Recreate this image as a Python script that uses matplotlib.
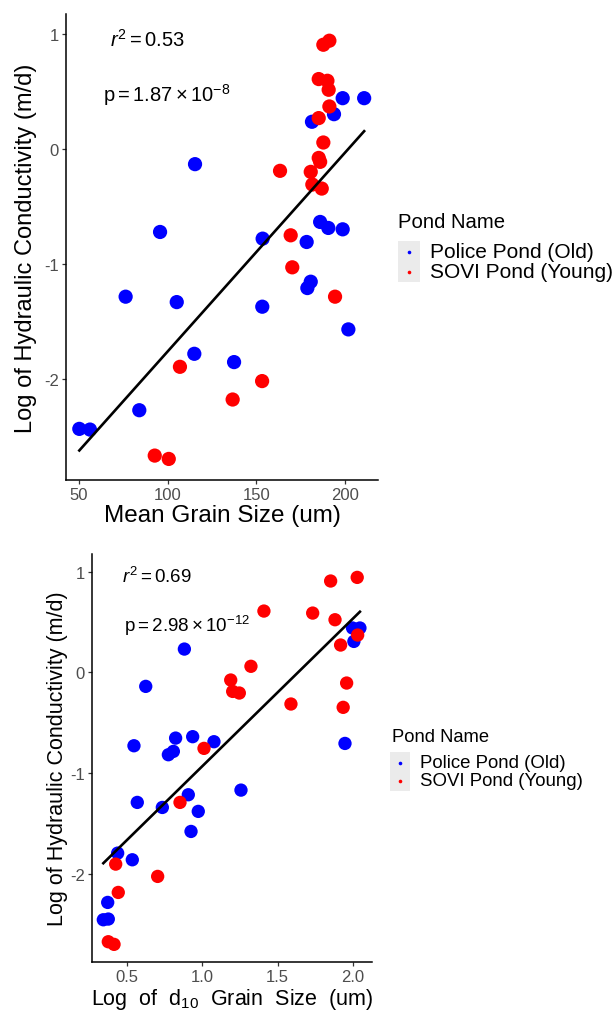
import numpy as np
import matplotlib
matplotlib.use("Agg")
import matplotlib.pyplot as plt
from matplotlib.lines import Line2D
from matplotlib.patches import Rectangle

plt.rcParams['font.family'] = ['Liberation Sans', 'DejaVu Sans']
plt.rcParams['mathtext.fontset'] = 'custom'
plt.rcParams['mathtext.rm'] = 'Liberation Sans'
plt.rcParams['mathtext.it'] = 'Liberation Sans:italic'
plt.rcParams['mathtext.default'] = 'regular'

# ---------------- data ----------------
pond_names = ["Police Pond (Old)", "SOVI Pond (Young)"]
pond_colors = ["#0000FF", "#FF0000"]

# Panel 1: mean grain size vs log K
mean_police_x = [198.6, 210.7, 193.7, 181.3, 115.4, 95.7, 153.5, 178.3, 185.9, 190.5, 198.6,
                 180.6, 178.7, 76.3, 105.1, 153.3, 201.8, 115.0, 137.4, 84.0, 50.2, 56.2]
mean_police_y = [0.443, 0.443, 0.304, 0.238, -0.130, -0.719, -0.777, -0.806, -0.632, -0.684, -0.696,
                 -1.151, -1.206, -1.281, -1.328, -1.368, -1.565, -1.777, -1.849, -2.267, -2.429, -2.435]
mean_sovi_x = [187.7, 191.1, 185.1, 190.0, 190.7, 191.1, 185.1, 187.7, 185.1, 185.9, 163.3,
               180.6, 181.5, 186.8, 169.3, 170.2, 194.3, 106.9, 153.2, 136.6, 92.7, 100.6]
mean_sovi_y = [0.907, 0.942, 0.609, 0.594, 0.516, 0.371, 0.270, 0.058, -0.076, -0.110, -0.188,
               -0.197, -0.307, -0.342, -0.748, -1.026, -1.281, -1.890, -2.014, -2.174, -2.661, -2.690]

# Panel 2: log d10 vs log K
d10_police_x = [1.996, 2.045, 2.005, 0.882, 0.626, 0.548, 0.824, 0.937, 1.078, 0.776, 0.809, 1.946,
                1.257, 0.908, 0.570, 0.736, 0.974, 0.926, 0.440, 0.537, 0.374, 0.345, 0.378]
d10_police_y = [0.440, 0.440, 0.307, 0.231, -0.139, -0.728, -0.652, -0.638, -0.688, -0.817, -0.784, -0.705,
                -1.168, -1.214, -1.290, -1.340, -1.379, -1.578, -1.793, -1.859, -2.282, -2.454, -2.447]
d10_sovi_x = [1.851, 2.027, 1.409, 1.732, 1.880, 2.030, 1.917, 1.323, 1.189, 1.202, 1.246,
              1.957, 1.588, 1.934, 1.012, 0.853, 0.427, 0.705, 0.444, 0.378, 0.416]
d10_sovi_y = [0.906, 0.942, 0.608, 0.588, 0.522, 0.370, 0.271, 0.060, -0.076, -0.189, -0.205,
              -0.106, -0.314, -0.347, -0.754, -1.290, -1.902, -2.024, -2.183, -2.672, -2.698]

y_ticks = [-2, -1, 0, 1]
top_x_ticks = [50, 100, 150, 200]
bot_x_ticks = [0.5, 1.0, 1.5, 2.0]
top_stats = [r"$\mathit{r}^{2} = 0.53$", r"$p = 1.87 \times 10^{-8}$"]
bot_stats = [r"$\mathit{r}^{2} = 0.69$", r"$p = 2.98 \times 10^{-12}$"]
ylab = "Log of Hydraulic Conductivity (m/d)"
top_xlab = "Mean Grain Size (um)"
bot_xlab = r"Log  of  d$_{10}$  Grain  Size  (um)"

W, H = 614, 1012
fig = plt.figure(figsize=(W / 100, H / 100), dpi=100)


def fx(px):
    return px / W


def fy(py):
    return 1 - py / H


def make_axes(l, r, t, b):
    return fig.add_axes([fx(l), fy(b), fx(r) - fx(l), fy(t) - fy(b)])


def style_axes(ax, tick_fs):
    for s in ["top", "right"]:
        ax.spines[s].set_visible(False)
    for s in ["left", "bottom"]:
        ax.spines[s].set_linewidth(1.1)
        ax.spines[s].set_color("black")
    ax.tick_params(axis="both", direction="out", length=3.2, width=0.9, color="#333333",
                   labelcolor="#4D4D4D", labelsize=tick_fs, pad=2)


def panel(ax, xs_list, ys_list, xlim, xticks, xtick_labels, stats, stat_fs, stat_pos,
          ms, xlab, xlab_fs, ylab_fs, xlab_y, ylab_x, tick_fs):
    allx = np.concatenate([np.asarray(v) for v in xs_list])
    ally = np.concatenate([np.asarray(v) for v in ys_list])
    for xs, ys, c in zip(xs_list, ys_list, pond_colors):
        ax.scatter(xs, ys, s=ms, color=c, edgecolors="none", zorder=2)
    slope, icpt = np.polyfit(allx, ally, 1)
    xl = np.array([allx.min(), allx.max()])
    ax.plot(xl, slope * xl + icpt, color="black", lw=1.9, zorder=3)
    ax.set_xlim(*xlim)
    ax.set_ylim(-2.873, 1.174)
    ax.set_xticks(xticks)
    ax.set_xticklabels(xtick_labels)
    ax.set_yticks(y_ticks)
    ax.set_yticklabels([str(v) for v in y_ticks])
    style_axes(ax, tick_fs)
    for txt, (tx, ty) in zip(stats, stat_pos):
        ax.text(tx, ty, txt, transform=ax.transAxes, fontsize=stat_fs, ha="left", va="center")
    ax.set_xlabel(xlab, fontsize=xlab_fs)
    ax.set_ylabel(ylab, fontsize=ylab_fs)
    ax.xaxis.set_label_coords(0.5, xlab_y)
    ax.yaxis.set_label_coords(ylab_x, 0.5)


def legend(title_xy, box, dots_y, dot_x, label_x, fs_title, fs_label):
    fig.text(fx(title_xy[0]), fy(title_xy[1]), "Pond Name", fontsize=fs_title, ha="left", va="center")
    bx0, by0, bx1, by1 = box
    fig.add_artist(Rectangle((fx(bx0), fy(by1)), fx(bx1) - fx(bx0), fy(by0) - fy(by1),
                             transform=fig.transFigure, facecolor="#EBEBEB", edgecolor="none"))
    for name, c, dy in zip(pond_names, pond_colors, dots_y):
        fig.add_artist(Line2D([fx(dot_x)], [fy(dy)], transform=fig.transFigure, marker="o",
                              markersize=2.6, color=c, markeredgewidth=0, linestyle="none"))
        fig.text(fx(label_x), fy(dy), name, fontsize=fs_label, ha="left", va="center")


ax1 = make_axes(66, 378, 15, 481)
panel(ax1, [mean_police_x, mean_sovi_x], [mean_police_y, mean_sovi_y], (42.7, 218.5),
      top_x_ticks, [str(v) for v in top_x_ticks], top_stats, 14.5,
      [(0.141, 0.946), (0.119, 0.828)], 105, top_xlab, 17.5, 17.0, -0.052, -0.093, 12)

ax2 = make_axes(92, 372, 555, 963)
panel(ax2, [d10_police_x, d10_sovi_x], [d10_police_y, d10_sovi_y], (0.27, 2.125),
      bot_x_ticks, ["0.5", "1.0", "1.5", "2.0"], bot_stats, 13.5,
      [(0.107, 0.946), (0.114, 0.826)], 92, bot_xlab, 15.5, 15.5, -0.058, -0.086, 12)

legend((398, 222), (398, 242, 420, 283), (252.5, 272.5), 409.3, 430, 14.6, 15)
legend((392, 737), (390, 753, 410, 792), (763.5, 782), 400, 419.5, 13.2, 13.4)

fig.savefig("out.png", dpi=100)
